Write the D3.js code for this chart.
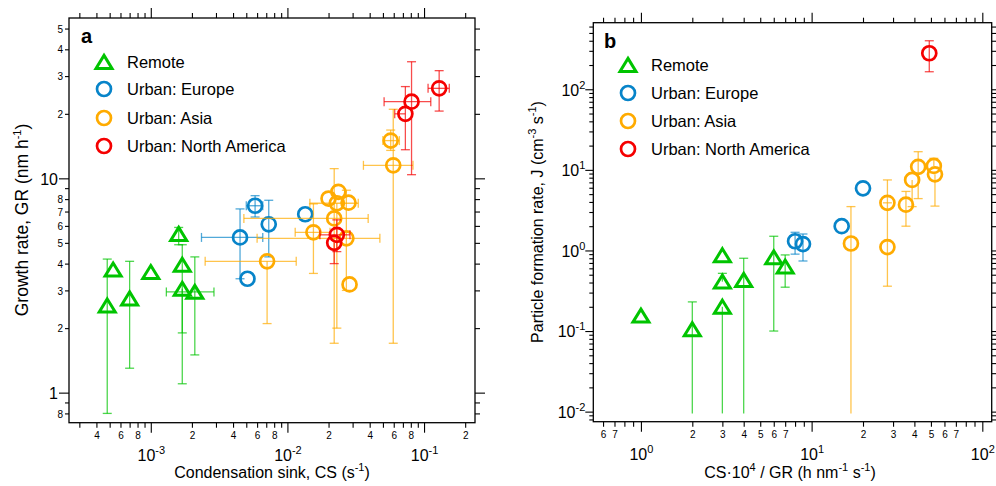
<!DOCTYPE html>
<html>
<head>
<meta charset="utf-8">
<script src="https://cdn.jsdelivr.net/npm/d3@7"></script>
<style>
  body { margin: 0; background: #fff; }
  svg { font-family: "Liberation Sans", Arial, Helvetica, sans-serif; }
</style>
</head>
<body>
<svg id="chart" width="996" height="486"></svg>
<script>
// ---------- panel a : growth rate vs condensation sink ----------
// null = no error bar on that side
const remoteCS   = [4.8e-4, 5.3e-4, 7.0e-4, 1.0e-3, 1.6e-3, 1.7e-3, 1.7e-3, 2.1e-3];
const remoteGR   = [2.55, 3.75, 2.75, 3.65, 5.5, 3.95, 3.05, 2.95];
const remoteGRlo = [0.8, null, 1.3, null, 4.9, 1.9, 1.1, 1.5];
const remoteGRhi = [4.2, null, 4.1, null, 5.9, 4.9, null, 4.3];
const remoteCSlo = [null, null, null, null, null, null, null, 1.3e-3];
const remoteCShi = [null, null, null, null, null, null, null, 2.9e-3];

const europeCS   = [4.5e-3, 5.1e-3, 5.8e-3, 7.3e-3, 1.35e-2];
const europeGR   = [5.3, 3.4, 7.45, 6.1, 6.8];
const europeGRlo = [3.4, null, 6.6, 4.3, null];
const europeGRhi = [7.2, null, 8.3, 7.9, null];
const europeCSlo = [2.35e-3, null, 5.0e-3, null, null];
const europeCShi = [6.6e-3, null, 6.6e-3, null, null];

const asiaCS   = [7.1e-3, 1.55e-2, 2.0e-2, 2.2e-2, 2.3e-2, 2.36e-2, 2.8e-2, 2.7e-2, 2.85e-2, 5.95e-2, 5.7e-2];
const asiaGR   = [4.1, 5.6, 8.05, 6.5, 7.65, 8.65, 7.7, 5.25, 3.2, 11.5, 15.0];
const asiaGRlo = [2.1, 3.6, null, 1.7, 2.0, null, null, 3.0, null, 1.7, 13.5];
const asiaGRhi = [null, 7.6, null, 11.1, null, null, null, 8.8, null, 21, 16.8];
const asiaCSlo = [2.5e-3, 1.14e-2, null, 4.8e-3, 1.46e-2, null, null, 6.0e-3, null, 3.6e-2, 5.0e-2];
const asiaCShi = [1.16e-2, 2.05e-2, null, 3.9e-2, 3.3e-2, null, null, 4.75e-2, null, 8.3e-2, 6.6e-2];

const naCS   = [2.3e-2, 2.2e-2, 7.3e-2, 8.1e-2, 0.129];
const naGR   = [5.45, 5.0, 20.0, 22.8, 26.3];
const naGRlo = [4.55, 4.0, 13.6, 10.4, 20.6];
const naGRhi = [6.4, null, 26.8, 35, 31.8];
const naCSlo = [1.73e-2, null, 6.1e-2, 5.1e-2, 0.107];
const naCShi = [2.87e-2, null, null, 0.112, 0.153];

// ---------- panel b : formation rate vs CS*1e4/GR ----------
const remoteRatio = [1.0, 2.0, 3.0, 3.0, 3.0, 4.0, 6.0, 7.0];
const remoteJ     = [0.155, 0.105, 0.2, 0.41, 0.87, 0.43, 0.82, 0.63];
const remoteJlo   = [null, 0.0095, 0.0095, null, null, 0.0095, 0.1, 0.35];
const remoteJhi   = [null, 0.23, null, 0.52, null, 0.8, 1.5, 0.88];

const europeRatio = [8.0, 8.9, 15.0, 20.0];
const europeJ     = [1.3, 1.2, 2.0, 5.9];
const europeJlo   = [0.9, 0.74, null, null];
const europeJhi   = [1.68, 1.6, null, null];

const asiaRatio = [17.0, 27.8, 27.8, 35.7, 38.8, 42.1, 52.0, 52.8];
const asiaJ     = [1.22, 3.9, 1.1, 3.7, 7.5, 10.9, 11.2, 8.8];
const asiaJlo   = [0.0095, null, 0.36, 2.0, 3.5, 4.4, null, 3.55];
const asiaJhi   = [3.5, 7.5, 3.9, 5.4, null, 16.8, 13.9, null];

const naRatio = [48.9];
const naJ     = [280];
const naJlo   = [165];
const naJhi   = [400];

// ---------- ticks ----------
const csMajor = [1e-3, 1e-2, 1e-1];
const csMinorLabels = [4e-4, 6e-4, 8e-4, 2e-3, 4e-3, 6e-3, 8e-3, 2e-2, 4e-2, 6e-2, 8e-2, 0.2];
const grMajor = [1, 10];
const grMinorLabels = [0.8, 2, 3, 4, 5, 6, 7, 8, 20, 30, 40, 50];
const ratioMajor = [1, 10, 100];
const ratioMinorLabels = [0.6, 0.7, 2, 3, 4, 5, 6, 7, 20, 30, 40, 50, 60, 70];
const jMajor = [0.01, 0.1, 1, 10, 100];
const jMinorLabels = [];

const legendNames = ["Remote", "Urban: Europe", "Urban: Asia", "Urban: North America"];
const colors = ["#00c400", "#0784c9", "#ffab00", "#f50000"];
const shapes = ["tri", "circ", "circ", "circ"];

const svg = d3.select("#chart");

// helpers
const sameVal = (a, b) => Math.abs(a - b) / b < 1e-6;
const lead = d => String(Math.round(d / Math.pow(10, Math.floor(Math.log10(d) + 1e-9))));
function minorTicks(scale) {
  const [a, b] = scale.domain();
  let out = [];
  for (let e = Math.floor(Math.log10(a)); e <= Math.ceil(Math.log10(b)); e++)
    for (let k = 2; k <= 9; k++) {
      const v = +(k * Math.pow(10, e)).toPrecision(3);
      if (v >= a && v <= b) out.push(v);
    }
  return out;
}
function pow10Label(sel, big) {
  // turns a tick text into "10" + superscript exponent
  sel.each(function(d) {
    const t = d3.select(this).text(null);
    if (big) { t.text(d); return; }
    t.append("tspan").text("10");
    t.append("tspan").attr("dy", -7).attr("font-size", 11).text(Math.round(Math.log10(d)));
  });
}
function pts(xs, ys, ylo, yhi, xlo, xhi) {
  return xs.map((x, i) => ({x: x, y: ys[i], ylo: ylo ? ylo[i] : null, yhi: yhi ? yhi[i] : null,
    xlo: xlo ? xlo[i] : null, xhi: xhi ? xhi[i] : null}));
}

function drawAxes(x, y, o) {
  const [xl, xr] = x.range(), [yb, yt] = y.range();
  const xm = minorTicks(x), ym = minorTicks(y);
  const fix = s => s.attr("font-family", null).attr("font-size", null).call(g => g.select(".domain").remove());

  // bottom
  svg.append("g").attr("transform", `translate(0,${yb})`)
    .call(d3.axisBottom(x).tickValues(xm).tickSize(5)
      .tickFormat(d => o.xLab.some(v => sameVal(v, d)) ? lead(d) : ""))
    .call(fix)
    .call(g => g.selectAll("text").attr("dy", null).attr("y", 16).attr("font-size", 10));
  svg.append("g").attr("transform", `translate(0,${yb})`)
    .call(d3.axisBottom(x).tickValues(o.xMajor).tickSize(10))
    .call(fix)
    .call(g => g.selectAll("text").attr("dy", null).attr("y", 38).attr("font-size", 16).call(pow10Label, false));
  // top (ticks only)
  svg.append("g").attr("transform", `translate(0,${yt})`)
    .call(d3.axisTop(x).tickValues(xm).tickSize(5).tickFormat("")).call(fix);
  svg.append("g").attr("transform", `translate(0,${yt})`)
    .call(d3.axisTop(x).tickValues(o.xMajor).tickSize(10).tickFormat("")).call(fix);

  // left
  svg.append("g").attr("transform", `translate(${xl},0)`)
    .call(d3.axisLeft(y).tickValues(ym).tickSize(o.yMinorSize)
      .tickFormat(d => o.yLab.some(v => sameVal(v, d)) ? lead(d) : ""))
    .call(fix)
    .call(g => g.selectAll("text").attr("x", -6).attr("dy", "0.36em").attr("font-size", 10));
  svg.append("g").attr("transform", `translate(${xl},0)`)
    .call(d3.axisLeft(y).tickValues(o.yMajor).tickSize(o.yMajorSize))
    .call(fix)
    .call(g => g.selectAll("text").attr("x", o.yMajorX).attr("dy", "0.36em").attr("font-size", 16)
      .call(pow10Label, o.yPlain));
  // right (ticks only)
  svg.append("g").attr("transform", `translate(${xr},0)`)
    .call(d3.axisRight(y).tickValues(ym).tickSize(5).tickFormat("")).call(fix);
  svg.append("g").attr("transform", `translate(${xr},0)`)
    .call(d3.axisRight(y).tickValues(o.yMajor).tickSize(10).tickFormat("")).call(fix);

  svg.selectAll(".tick line").attr("stroke", "#000").attr("stroke-width", 1.1);

  // frame
  svg.append("rect").attr("x", xl).attr("y", yt).attr("width", xr - xl).attr("height", yb - yt)
    .attr("fill", "none").attr("stroke", "#000").attr("stroke-width", 1.3);
}

function drawSeries(x, y, data, color, shape, floor) {
  const g = svg.append("g");
  const cap = 4.5;
  data.forEach(p => {
    const eb = g.append("g").attr("stroke", color).attr("stroke-width", 1.3).attr("stroke-opacity", 0.7);
    if (p.ylo != null || p.yhi != null) {
      const cx = x(p.x);
      eb.append("line").attr("x1", cx).attr("x2", cx)
        .attr("y1", y(p.ylo ?? p.y)).attr("y2", y(p.yhi ?? p.y));
      [p.ylo, p.yhi].forEach(v => {
        // lower bounds that fall below the axis floor were clipped: no cap drawn
        if (v != null && !(floor && v < floor))
          eb.append("line").attr("x1", cx - cap).attr("x2", cx + cap).attr("y1", y(v)).attr("y2", y(v));
      });
    }
    if (p.xlo != null || p.xhi != null) {
      const cy = y(p.y);
      eb.append("line").attr("y1", cy).attr("y2", cy)
        .attr("x1", x(p.xlo ?? p.x)).attr("x2", x(p.xhi ?? p.x));
      [p.xlo, p.xhi].forEach(v => {
        if (v != null)
          eb.append("line").attr("y1", cy - cap).attr("y2", cy + cap).attr("x1", x(v)).attr("x2", x(v));
      });
    }
  });
  drawMarkers(g, data.map(p => [x(p.x), y(p.y)]), color, shape);
}

function drawMarkers(g, xy, color, shape) {
  if (shape === "tri") {
    g.selectAll(null).data(xy).join("path")
      .attr("d", d => `M${d[0]},${d[1] - 6.6}L${d[0] + 8},${d[1] + 6.4}L${d[0] - 8},${d[1] + 6.4}Z`)
      .attr("fill", "none").attr("stroke", color).attr("stroke-width", 3);
  } else {
    g.selectAll(null).data(xy).join("circle")
      .attr("cx", d => d[0]).attr("cy", d => d[1]).attr("r", 7)
      .attr("fill", "none").attr("stroke", color).attr("stroke-width", 2.7);
  }
}

function legend(x0, y0s) {
  legendNames.forEach((n, i) => {
    drawMarkers(svg.append("g"), [[x0, y0s[i]]], colors[i], shapes[i]);
    svg.append("text").attr("x", x0 + 23).attr("y", y0s[i] + 6).attr("font-size", 16.5).text(n);
  });
}

function supText(x, y, rot, parts, size) {
  // parts: [text, isSuperscript]
  const t = svg.append("text").attr("text-anchor", "middle").attr("font-size", size || 16)
    .attr("transform", `translate(${x},${y}) rotate(${rot})`);
  let up = false;
  parts.forEach(([s, sup]) => {
    const ts = t.append("tspan").text(s);
    if (sup && !up) { ts.attr("dy", -7).attr("font-size", 11); up = true; }
    else if (sup) ts.attr("font-size", 11);
    else if (up) { ts.attr("dy", 7); up = false; }
  });
}

// ===== panel a =====
const xA = d3.scaleLog().domain([2.52e-4, 0.236]).range([69, 475]);
const yA = d3.scaleLog().domain([0.724, 56]).range([422.7, 18]);
drawAxes(xA, yA, {xMajor: csMajor, xLab: csMinorLabels, yMajor: grMajor, yLab: grMinorLabels,
  yMinorSize: 4, yMajorSize: 10, yMajorX: -11, yPlain: true});
drawSeries(xA, yA, pts(remoteCS, remoteGR, remoteGRlo, remoteGRhi, remoteCSlo, remoteCShi), colors[0], "tri");
drawSeries(xA, yA, pts(europeCS, europeGR, europeGRlo, europeGRhi, europeCSlo, europeCShi), colors[1], "circ");
drawSeries(xA, yA, pts(asiaCS, asiaGR, asiaGRlo, asiaGRhi, asiaCSlo, asiaCShi), colors[2], "circ");
drawSeries(xA, yA, pts(naCS, naGR, naGRlo, naGRhi, naCSlo, naCShi), colors[3], "circ");
legend(104, [62, 89, 118, 146]);
svg.append("text").attr("x", 81).attr("y", 43).attr("font-size", 20).attr("font-weight", "bold").text("a");
supText(272, 478, 0, [["Condensation sink, CS (s"], ["-1", true], [")"]]);
supText(28, 220, -90, [["Growth rate, GR (nm h"], ["-1", true], [")"]], 17.5);

// ===== panel b =====
const xB = d3.scaleLog().domain([0.526, 113.5]).range([593.3, 991.7]);
const yB = d3.scaleLog().domain([0.0075, 670]).range([421.7, 22.7]);
drawAxes(xB, yB, {xMajor: ratioMajor, xLab: ratioMinorLabels, yMajor: jMajor, yLab: jMinorLabels,
  yMinorSize: 4, yMajorSize: 8, yMajorX: -8, yPlain: false});
drawSeries(xB, yB, pts(remoteRatio, remoteJ, remoteJlo, remoteJhi), colors[0], "tri", 0.01);
drawSeries(xB, yB, pts(europeRatio, europeJ, europeJlo, europeJhi), colors[1], "circ", 0.01);
drawSeries(xB, yB, pts(asiaRatio, asiaJ, asiaJlo, asiaJhi), colors[2], "circ", 0.01);
drawSeries(xB, yB, pts(naRatio, naJ, naJlo, naJhi), colors[3], "circ", 0.01);
legend(628, [65, 93, 121, 149]);
svg.append("text").attr("x", 604).attr("y", 48).attr("font-size", 20).attr("font-weight", "bold").text("b");
supText(790, 478, 0, [["CS\u00b710"], ["4", true], [" / GR (h nm"], ["-1", true], [" s"], ["-1", true], [")"]]);
supText(543, 222, -90, [["Particle formation rate, J (cm"], ["-3", true], [" s"], ["-1", true], [")"]]);
</script>
</body>
</html>
